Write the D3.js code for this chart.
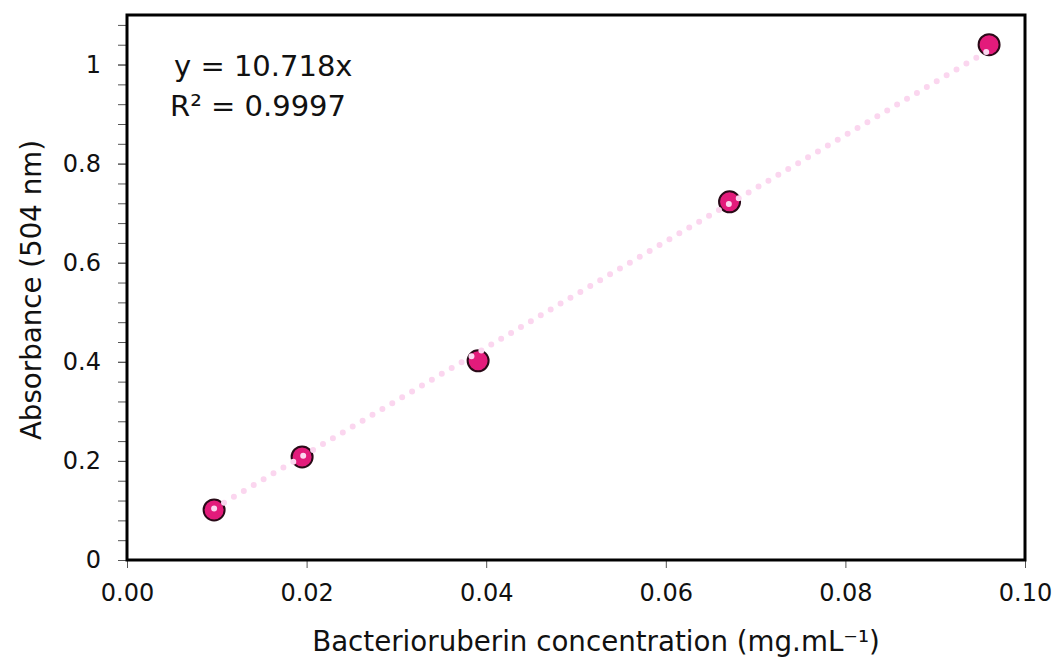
<!DOCTYPE html>
<html>
<head>
<meta charset="utf-8">
<script src="https://cdn.jsdelivr.net/npm/d3@7"></script>
<style>
  body { margin: 0; background: #fff; }
  svg { font-family: "DejaVu Sans", sans-serif; }
</style>
</head>
<body>
<div id="vis"></div>
<script>
// data
const concentration = [0.0097, 0.0195, 0.0391, 0.0671, 0.0960];
const absorbance = [0.101, 0.208, 0.402, 0.723, 1.040];
const slope = 10.718;
const xTicks = [0, 0.02, 0.04, 0.06, 0.08, 0.10];
const yTicks = [0, 0.2, 0.4, 0.6, 0.8, 1];
const yMinorTicks = d3.range(0, 1.1, 0.04);

const FRAME_WIDTH = 1056;
const FRAME_HEIGHT = 657;
const MARGINS = {left: 127, right: 31, top: 15, bottom: 97};
const VIS_WIDTH = FRAME_WIDTH - MARGINS.left - MARGINS.right;
const VIS_HEIGHT = FRAME_HEIGHT - MARGINS.top - MARGINS.bottom;

const FRAME = d3.select('#vis')
    .append('svg')
        .attr('width', FRAME_WIDTH)
        .attr('height', FRAME_HEIGHT);

const X_SCALE = d3.scaleLinear().domain([0, 0.1]).range([0, VIS_WIDTH]);
const Y_SCALE = d3.scaleLinear().domain([0, 1.1]).range([VIS_HEIGHT, 0]);

const plot = FRAME.append('g')
    .attr('transform', 'translate(' + MARGINS.left + ',' + MARGINS.top + ')');

// minor y ticks
plot.append('g')
    .call(d3.axisLeft(Y_SCALE).tickValues(yMinorTicks).tickSize(9).tickFormat(''))
    .call(g => g.select('.domain').remove())
    .call(g => g.selectAll('line').attr('stroke', '#555'));

// y axis
plot.append('g')
    .call(d3.axisLeft(Y_SCALE).tickValues(yTicks).tickSize(9).tickPadding(17)
        .tickFormat(d => String(+d.toFixed(1))))
    .call(g => g.select('.domain').remove())
    .call(g => g.selectAll('line').attr('stroke', '#555'))
    .call(g => g.selectAll('text').attr('font-size', '24px').attr('fill', '#111')
        .style('font-family', '"DejaVu Sans", sans-serif'));

// x axis
plot.append('g')
    .attr('transform', 'translate(0,' + VIS_HEIGHT + ')')
    .call(d3.axisBottom(X_SCALE).tickValues(xTicks).tickSize(8).tickPadding(16)
        .tickFormat(d3.format('.2f')))
    .call(g => g.select('.domain').remove())
    .call(g => g.selectAll('line').attr('stroke', '#555'))
    .call(g => g.selectAll('text').attr('font-size', '24px').attr('fill', '#111')
        .style('font-family', '"DejaVu Sans", sans-serif'));

// frame
plot.append('rect')
    .attr('width', VIS_WIDTH)
    .attr('height', VIS_HEIGHT)
    .attr('fill', 'none')
    .attr('stroke', '#000')
    .attr('stroke-width', 3);

// points
plot.selectAll('.point')
    .data(concentration)
    .enter()
    .append('circle')
    .attr('class', 'point')
    .attr('cx', d => X_SCALE(d))
    .attr('cy', (d, i) => Y_SCALE(absorbance[i]))
    .attr('r', 10.5)
    .attr('fill', '#e31b7b')
    .attr('stroke', '#2a0a18')
    .attr('stroke-width', 2);

// dotted trendline, drawn over the points
const xs = [concentration[0], concentration[concentration.length - 1]];
plot.append('line')
    .attr('x1', X_SCALE(xs[0]))
    .attr('y1', Y_SCALE(slope * xs[0]))
    .attr('x2', X_SCALE(xs[1]))
    .attr('y2', Y_SCALE(slope * xs[1]))
    .attr('stroke', '#fbd6ef')
    .attr('stroke-width', 6)
    .attr('stroke-linecap', 'round')
    .attr('stroke-dasharray', '0 11.5');

// equation
plot.append('text')
    .attr('x', 47)
    .attr('y', 61)
    .attr('font-size', '29px')
    .attr('fill', '#111')
    .text('y = 10.718x');
plot.append('text')
    .attr('x', 43)
    .attr('y', 101)
    .attr('font-size', '29px')
    .attr('fill', '#111')
    .text('R² = 0.9997');

// axis titles
FRAME.append('text')
    .attr('x', 596)
    .attr('y', 651)
    .attr('text-anchor', 'middle')
    .attr('font-size', '27.7px')
    .attr('fill', '#111')
    .text('Bacterioruberin concentration (mg.mL⁻¹)');

FRAME.append('text')
    .attr('transform', 'translate(41,290) rotate(-90)')
    .attr('text-anchor', 'middle')
    .attr('font-size', '27.7px')
    .attr('fill', '#111')
    .text('Absorbance (504 nm)');
</script>
</body>
</html>
